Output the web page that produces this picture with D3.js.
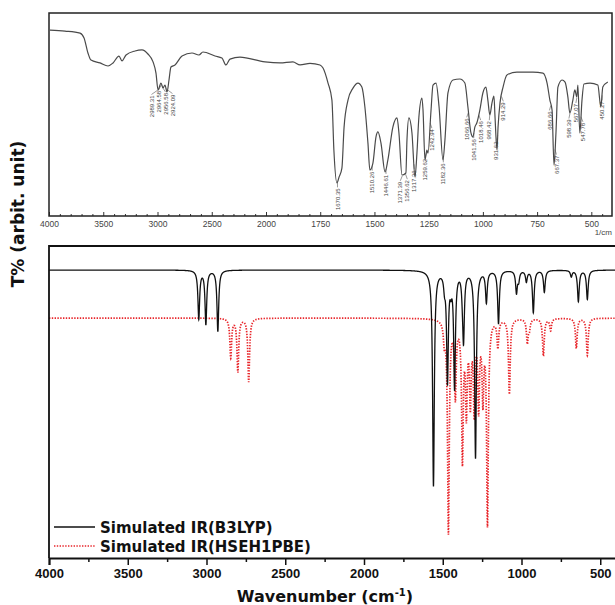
<!DOCTYPE html>
<html>
<head>
<meta charset="utf-8">
<script src="https://cdn.jsdelivr.net/npm/d3@7"></script>
<style>
  body { margin: 0; background: #fff; }
  svg { display: block; font-family: "Liberation Sans", Arial, sans-serif; }
</style>
</head>
<body>
<div id="chart"></div>
<script>
var svgWidth = 615;
var svgHeight = 605;

// experimental FTIR trace (wavenumber, T%)
var expWave = [3991, 3853, 3714, 3677, 3641, 3613, 3530, 3456, 3410, 3355, 3327, 3290, 3207, 3143, 3088, 3041, 3014,
  2995, 2968, 2949, 2931, 2912, 2894, 2876, 2839, 2774, 2682, 2618, 2581, 2470, 2406, 2369, 2332, 2240, 2009, 1935,
  1876, 1843, 1797, 1751, 1737, 1714, 1696, 1687, 1673, 1663, 1650, 1640, 1622, 1599, 1576, 1558, 1544, 1530, 1521,
  1507, 1493, 1484, 1470, 1451, 1438, 1415, 1396, 1387, 1373, 1355, 1350, 1341, 1327, 1313, 1304, 1295, 1281, 1276,
  1267, 1258, 1253, 1239, 1230, 1216, 1202, 1184, 1175, 1161, 1138, 1106, 1083, 1069, 1055, 1046, 1037, 1028, 1014,
  1000, 986, 977, 968, 958, 949, 944, 935, 930, 921, 907, 889, 843, 769, 723, 704, 691, 681, 672, 663, 654, 635, 621,
  608, 599, 585, 576, 567, 562, 553, 543, 534, 506, 470, 456, 447, 424];
var expT = [91.6, 91.1, 90.1, 87.7, 80.3, 76.8, 75.4, 73.9, 75.4, 78.8, 76.4, 79.3, 81.3, 81.8, 79.8, 75.9, 70.4,
  62.1, 65.5, 63.1, 64.5, 61.1, 67.0, 73.4, 74.4, 78.8, 80.3, 79.3, 80.8, 78.8, 77.8, 74.4, 77.3, 78.3, 75.9, 75.4,
  75.9, 74.4, 75.2, 74.4, 72.9, 65.5, 57.1, 32.5, 16.3, 19.2, 23.6, 43.8, 57.1, 63.0, 65.5, 63.5, 53.7, 36.0, 22.7,
  26.1, 38.9, 41.4, 36.0, 21.7, 27.6, 43.8, 48.3, 40.9, 20.2, 21.2, 37.4, 48.3, 40.9, 19.2, 31.0, 48.8, 58.1, 52.2,
  27.6, 32.5, 31.0, 52.2, 64.5, 65.5, 53.7, 27.6, 37.4, 60.6, 67.0, 67.5, 65.5, 53.7, 40.9, 38.9, 43.8, 45.8, 52.2,
  60.6, 63.5, 57.1, 49.8, 55.7, 59.1, 48.8, 32.5, 43.8, 55.7, 63.5, 69.5, 70.9, 70.9, 70.4, 65.5, 57.1, 52.2, 25.1,
  40.9, 63.5, 67.0, 66.0, 58.6, 50.7, 57.1, 62.1, 58.6, 64.5, 40.9, 57.1, 65.0, 65.5, 64.5, 53.7, 63.5, 66.0];
var expLabels = ["2989.31", "2964.58", "2956.58", "2924.09", "1670.35", "1510.26", "1446.61", "1371.39", "1356.62",
  "1317.36", "1259.62", "1242.94", "1182.36", "1066.66", "1041.56", "1018.46", "968.42", "931.62", "914.29",
  "686.66", "667.37", "598.39", "567.07", "547.78", "450.27"];
var topTicks = [4000, 3500, 3000, 2500, 2000, 1750, 1500, 1250, 1000, 750, 500];

// simulated stick spectra (position cm-1, intensity in arbit. units)
var b3lypPeaks = [3049, 3004, 2928, 1559, 1489, 1470, 1448, 1425, 1375, 1368, 1292, 1223, 1146, 1032, 1018, 969,
  925, 855, 684, 639, 582];
var b3lypDepth = [15.5, 17.2, 19.6, 69, 4, 35, 4, 37, 4, 21, 60, 10, 17, 7, 3, 3.5, 13.5, 7, 2, 10, 9.3];
var hsePeaks = [2846, 2801, 2732, 1490, 1464, 1420, 1375, 1350, 1325, 1300, 1272, 1245, 1216, 1150, 1077, 963, 950,
  861, 815, 652, 582];
var hseDepth = [12.5, 17, 20.3, 6, 68, 24, 44, 28, 25, 28, 27, 24, 65, 8.7, 24, 7.5, 3, 12, 3.8, 9.6, 11.9];
var bottomTicks = [4000, 3500, 3000, 2500, 2000, 1500, 1000, 500];
var seriesNames = ["Simulated IR(B3LYP)", "Simulated IR(HSEH1PBE)"];

var wideFont = "DejaVu Sans, Verdana, sans-serif";

var svg = d3.select("#chart")
  .append("svg")
  .attr("width", svgWidth)
  .attr("height", svgHeight);

// ---------- top panel: experimental ----------
var xTop = d3.scaleLinear().domain([4000, 2000, 400]).range([49, 266, 613]);
var yTop = d3.scaleLinear().domain([0, 100]).range([216, 13]);

var minorTop = d3.range(3900, 2000, -100).filter(d => d % 500 !== 0)
  .concat(d3.range(1950, 400, -50).filter(d => d % 250 !== 0));

var topAxis = svg.append("g")
  .attr("transform", "translate(0,216)")
  .call(d3.axisBottom(xTop).tickValues(topTicks).tickSize(-4).tickPadding(5).tickFormat(d3.format("d")));
topAxis.select(".domain").remove();
topAxis.selectAll("line").attr("stroke", "#333");
topAxis.selectAll("text").attr("font-size", "8.5px").attr("fill", "#444").attr("font-family", "Liberation Sans, Arial");

var topMinor = svg.append("g")
  .attr("transform", "translate(0,216)")
  .call(d3.axisBottom(xTop).tickValues(minorTop).tickSize(-2).tickFormat(""));
topMinor.select(".domain").remove();
topMinor.selectAll("line").attr("stroke", "#333");

svg.append("rect")
  .attr("x", 49).attr("y", 13)
  .attr("width", 563).attr("height", 203)
  .attr("fill", "none").attr("stroke", "#222").attr("stroke-width", 1.5);

svg.append("text")
  .attr("x", 612).attr("y", 235)
  .attr("text-anchor", "end")
  .attr("font-size", "8px").attr("fill", "#444")
  .text("1/cm");

var expData = expWave.map((w, i) => [w, expT[i]]);
var topLine = d3.line()
  .x(d => xTop(d[0]))
  .y(d => yTop(d[1]))
  .curve(d3.curveMonotoneX);

svg.append("path")
  .datum(expData)
  .attr("d", topLine)
  .attr("fill", "none")
  .attr("stroke", "#4a4a4a")
  .attr("stroke-width", 1.2);

function interpT(w) {
  for (var i = 0; i < expWave.length - 1; i++) {
    if (expWave[i] >= w && expWave[i + 1] <= w) {
      var t = (expWave[i] - w) / (expWave[i] - expWave[i + 1]);
      return expT[i] + t * (expT[i + 1] - expT[i]);
    }
  }
  return expT[expT.length - 1];
}

// peak labels, spread apart when crowded
var labelData = expLabels.map(s => {
  var w = +s;
  var x0 = xTop(w);
  return { text: s, x0: x0, y0: yTop(interpT(w)), x: x0 };
});
labelData.sort((a, b) => a.x0 - b.x0);
for (var it = 0; it < 60; it++) {
  for (var k = 0; k < labelData.length - 1; k++) {
    var a = labelData[k], b = labelData[k + 1];
    var gap = b.x - a.x;
    if (gap < 7) {
      var push = (7 - gap) / 2;
      a.x -= push;
      b.x += push;
    }
  }
}
var labG = svg.append("g");
labelData.forEach(d => {
  var top = d.y0 + 7;
  labG.append("path")
    .attr("d", `M${d.x0},${d.y0 + 1}L${d.x},${top - 1}`)
    .attr("stroke", "#555").attr("stroke-width", 0.6).attr("fill", "none");
  labG.append("text")
    .attr("transform", `translate(${d.x},${top}) rotate(-90)`)
    .attr("text-anchor", "end")
    .attr("dy", "0.35em")
    .attr("font-size", "6px")
    .attr("fill", "#444")
    .text(d.text);
});

// ---------- bottom panel: simulated ----------
var xBot = d3.scaleLinear().domain([4000, 400]).range([49, 616]);
var yBot = d3.scaleLinear().domain([0, 100]).range([558, 246]);
var b3lypBase = 92.3;
var hseBase = 76.9;
var hwhm = 6.5;
var grid = d3.range(4000, 399.9, -0.5);

function broaden(peaks, depth, base) {
  return grid.map(w => [w, base - d3.sum(peaks, (p, i) => depth[i] * hwhm * hwhm / ((w - p) * (w - p) + hwhm * hwhm))]);
}

var botLine = d3.line()
  .x(d => xBot(d[0]))
  .y(d => yBot(d[1]));

svg.append("path")
  .datum(broaden(hsePeaks, hseDepth, hseBase))
  .attr("d", botLine)
  .attr("fill", "none")
  .attr("stroke", "#e8262b")
  .attr("stroke-width", 1.7)
  .attr("stroke-dasharray", "1.4,1.4");

svg.append("path")
  .datum(broaden(b3lypPeaks, b3lypDepth, b3lypBase))
  .attr("d", botLine)
  .attr("fill", "none")
  .attr("stroke", "#111")
  .attr("stroke-width", 1.3);

// frame: left + top
svg.append("path")
  .attr("d", "M49,558V246H617")
  .attr("fill", "none").attr("stroke", "#111").attr("stroke-width", 1.8);

var minorBot = d3.range(3750, 400, -500);
var botMinor = svg.append("g")
  .attr("transform", "translate(0,558)")
  .call(d3.axisBottom(xBot).tickValues(minorBot).tickSize(4).tickFormat(""));
botMinor.select(".domain").remove();
botMinor.selectAll("line").attr("stroke", "#111").attr("stroke-width", 1.5);

var botAxis = svg.append("g")
  .attr("transform", "translate(0,558)")
  .call(d3.axisBottom(xBot).tickValues(bottomTicks).tickSize(7).tickPadding(4).tickFormat(d3.format("d")));
botAxis.select(".domain").attr("stroke", "#111").attr("stroke-width", 2);
botAxis.selectAll("line").attr("stroke", "#111").attr("stroke-width", 1.5);
botAxis.selectAll("text")
  .attr("font-size", "13px").attr("font-weight", "bold").attr("fill", "#111")
  .attr("font-family", "Liberation Sans, Arial");

// axis titles
var xTitle = svg.append("text")
  .attr("x", 325).attr("y", 602)
  .attr("text-anchor", "middle")
  .attr("font-family", wideFont)
  .attr("font-size", "16px").attr("font-weight", "bold").attr("fill", "#111");
xTitle.append("tspan").text("Wavenumber (cm");
xTitle.append("tspan").attr("dy", -6).attr("font-size", "10px").text("-1");
xTitle.append("tspan").attr("dy", 6).text(")");

svg.append("text")
  .attr("transform", "translate(24,214) rotate(-90)")
  .attr("text-anchor", "middle")
  .attr("font-family", wideFont)
  .attr("font-size", "17px").attr("font-weight", "bold").attr("fill", "#111")
  .text("T% (arbit. unit)");

// legend
var legend = svg.append("g");
seriesNames.forEach((name, i) => {
  var ly = 527 + i * 19;
  var ln = legend.append("line")
    .attr("x1", 54).attr("x2", 95)
    .attr("y1", ly).attr("y2", ly)
    .attr("stroke-width", i === 0 ? 1.3 : 1.7)
    .attr("stroke", i === 0 ? "#111" : "#e8262b");
  if (i === 1) ln.attr("stroke-dasharray", "1.4,1.4");
  legend.append("text")
    .attr("x", 100).attr("y", ly + 5.5)
    .attr("font-family", wideFont)
    .attr("font-size", "15px").attr("font-weight", "bold").attr("fill", "#111")
    .text(name);
});
</script>
</body>
</html>
